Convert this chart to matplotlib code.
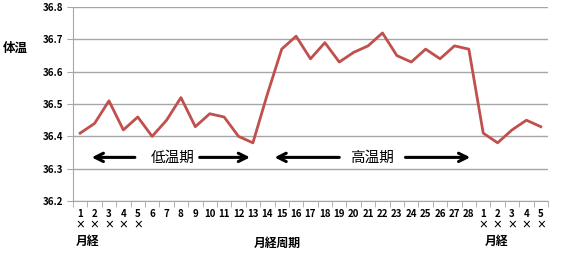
import matplotlib
matplotlib.use('Agg')
from matplotlib import pyplot as plt
import numpy as np

plt.rcParams['font.family'] = ['Noto Sans CJK JP', 'DejaVu Sans']

days = [str(d) for d in range(1, 29)] + [str(d) for d in range(1, 6)]
temps = [36.41, 36.44, 36.51, 36.42, 36.46, 36.40, 36.45, 36.52, 36.43, 36.47,
         36.46, 36.40, 36.38, 36.53, 36.67, 36.71, 36.64, 36.69, 36.63, 36.66,
         36.68, 36.72, 36.65, 36.63, 36.67, 36.64, 36.68, 36.67,
         36.41, 36.38, 36.42, 36.45, 36.43]
period_days = [0, 1, 2, 3, 4, 28, 29, 30, 31, 32]
tick_labels = [d + '\n×' if i in period_days else d for i, d in enumerate(days)]

x = np.arange(len(days))

fig = plt.figure(figsize=(5.67, 2.63), dpi=100)
ax = fig.add_axes([0.1287, 0.2357, 0.8378, 0.7373])

ax.plot(x, temps, color='#c0504d', lw=2, zorder=3)

ax.set_ylim(36.2, 36.8)
ax.set_yticks(np.arange(36.2, 36.81, 0.1))
ax.set_yticklabels(['%.1f' % v for v in np.arange(36.2, 36.81, 0.1)],
                   fontsize=7, fontweight='bold')
ax.grid(axis='y', color='#a6a6a6', lw=1)
ax.set_axisbelow(True)

ax.set_xlim(-0.5, len(days) - 0.5)
ax.set_xticks(x)
ax.set_xticklabels(tick_labels, fontsize=7, fontweight='bold',
                   va='top', linespacing=1.0)
ax.set_xticks(np.arange(-0.5, len(days), 1), minor=True)
ax.tick_params(axis='x', which='major', length=0, pad=6)
ax.tick_params(axis='x', which='minor', length=4, color='#a6a6a6')
ax.tick_params(axis='y', length=4, color='#a6a6a6', pad=3)

for s in ['top', 'right']:
    ax.spines[s].set_visible(False)
for s in ['left', 'bottom']:
    ax.spines[s].set_color('#a6a6a6')

# labels
fig.text(3 / 567, 1 - 48 / 263, '体温', fontsize=9, fontweight='bold',
         ha='left', va='center')
fig.text(277 / 567, 1 - 243 / 263, '月経周期', fontsize=8.5, fontweight='bold',
         ha='center', va='center')
fig.text(76 / 567, 1 - 241 / 263, '月経', fontsize=8.5, fontweight='bold',
         ha='left', va='center')
fig.text(485 / 567, 1 - 241 / 263, '月経', fontsize=8.5, fontweight='bold',
         ha='left', va='center')

# phase arrows
arrow_y = 36.335
phases = [('低温期', 6.4, (3.8, 0.8), (8.3, 11.8)),
          ('高温期', 20.3, (18.0, 13.5), (22.6, 27.1))]
for name, cx, left, right in phases:
    ax.text(cx, arrow_y, name, fontsize=10.5, ha='center', va='center')
    for a, b in [left, right]:
        ax.annotate('', xy=(b, arrow_y), xytext=(a, arrow_y),
                    arrowprops=dict(arrowstyle='->,head_length=0.6,head_width=0.3',
                                    lw=2.2, color='black', shrinkA=0, shrinkB=0))

fig.savefig('out.png', dpi=100)
